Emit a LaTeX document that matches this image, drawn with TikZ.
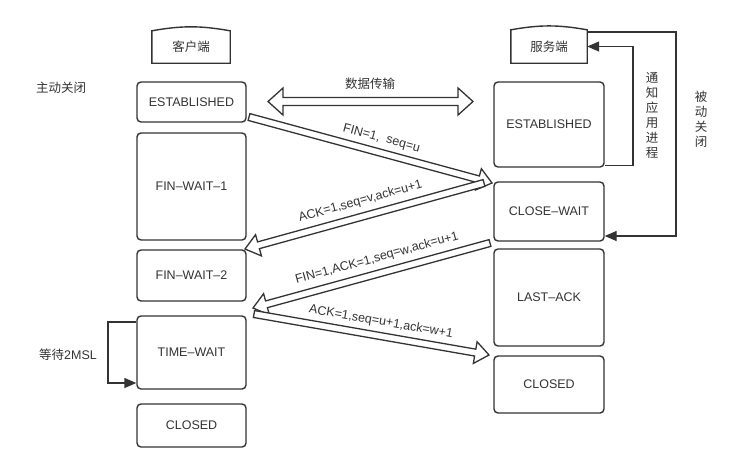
\documentclass[tikz,border=0pt]{standalone}
\usepackage{fontspec}
\setmainfont{Liberation Sans}
\newfontfamily\cjk{Noto Sans CJK SC}
\usetikzlibrary{calc, arrows.meta}

\definecolor{ink}{HTML}{333333}
\newcommand{\lbl}{\fontsize{12.5pt}{15pt}\selectfont}

% hollow arrow from #1 to #2
\newcommand{\hollowarrow}[2]{%
  \coordinate (h) at ($(#2)!14pt!(#1)$);
  \draw[fat] ($(#1)!3.5pt!90:(#2)$) -- ($(h)!3.5pt!90:(#2)$) -- ($(h)!11pt!90:(#2)$) -- (#2)
    -- ($(h)!11pt!-90:(#2)$) -- ($(h)!3.5pt!-90:(#2)$) -- ($(#1)!3.5pt!-90:(#2)$) -- cycle;}

\tikzset{
  statebox/.style={draw=ink, line width=1.4pt, rounded corners=4pt, minimum width=109pt, inner sep=0pt, text=ink, font=\lbl},
  hdr/.style={minimum width=78pt, minimum height=32pt, inner sep=0pt, text=ink, font=\lbl\cjk},
  edge/.style={draw=ink, line width=1.4pt},
  fat/.style={draw=ink, line width=1.3pt, fill=white},
  backline/.style={draw=ink, line width=1.4pt, -{Triangle[length=12pt,width=10pt]}},
  note/.style={text=ink, font=\lbl\cjk},
  vtext/.style={text=ink, font=\lbl\cjk, align=center},
  msg/.style={text=ink, font=\lbl, inner sep=1pt},
}

\begin{document}
\begin{tikzpicture}[x=1pt, y=-1pt]
\useasboundingbox (0,0) rectangle (738,472);

% Headers
\node[hdr] (chdr) at (191,47) {客户端};
\node[hdr, minimum width=76pt, minimum height=33pt] (shdr) at (549,46.5) {服务端};
\draw[edge] (chdr.south west) -- (chdr.north west) to[bend left=10] (chdr.north east) -- (chdr.south east) -- cycle;
\draw[edge] (shdr.south west) -- (shdr.north west) to[bend left=10] (shdr.north east) -- (shdr.south east) -- cycle;

% Client states
\node[statebox, minimum height=40pt] (cest) at (191.5,102) {ESTABLISHED};
\node[statebox, minimum height=107pt] (cfw1) at (191.5,186.5) {FIN--WAIT--1};
\node[statebox, minimum height=51pt] (cfw2) at (191.5,275.5) {FIN--WAIT--2};
\node[statebox, minimum height=73pt] (ctw) at (191.5,352.5) {TIME--WAIT};
\node[statebox, minimum height=43pt] (ccl) at (191.5,425.5) {CLOSED};

% Server states
\node[statebox, minimum width=110pt, minimum height=85pt] (sest) at (549,124.5) {ESTABLISHED};
\node[statebox, minimum width=110pt, minimum height=59pt] (scw) at (549,211.5) {CLOSE--WAIT};
\node[statebox, minimum width=110pt, minimum height=97pt] (sla) at (549,297.5) {LAST--ACK};
\node[statebox, minimum width=110pt, minimum height=57pt] (scl) at (549,384.5) {CLOSED};

% Side texts
\node[note] (active) at (61,88) {主动关闭};
\node[note] (wait) at (68,355) {等待{\fontspec{Liberation Sans}2MSL}};
\node[note] (data) at (370,84) {数据传输};
\node[vtext] (notify) at (652,115) {通\\知\\应\\用\\进\\程};
\node[vtext] (passive) at (701,119) {被\\动\\关\\闭};

% Loops
\coordinate (n1) at (633,46);
\coordinate (n2) at (676,236);
\coordinate (w1) at (108,383);
\draw[backline] ($(sest.south east)+(0,-2)$) -| (n1 |- shdr.east) -- (shdr.east);
\draw[backline] ($(shdr.north east)+(0,2)$) -| (n2) -- (scw.east |- n2);
\draw[backline] (ctw.west |- 0,322) -| (w1) -- (ctw.west |- w1);

% Data transfer
\coordinate (d1) at (268,101.5);
\coordinate (d2) at (473,101.5);
\draw[fat] (d1) -- ++(15,-13.5) -- ++(0,9.5) -- ($(d2)+(-15,-4)$) -- ++(0,-9.5) -- (d2)
  -- ++(-15,13.5) -- ++(0,-9.5) -- ($(d1)+(15,4)$) -- ++(0,9.5) -- cycle;

% Messages
\coordinate (a1s) at (249,117);
\coordinate (a1e) at (492,183);
\coordinate (a2s) at (484,183);
\coordinate (a2e) at (245,249);
\coordinate (a3s) at (490,243);
\coordinate (a3e) at (253,308);
\coordinate (a4s) at (254,314);
\coordinate (a4e) at (489,355);
\hollowarrow{a1s}{a1e}
\hollowarrow{a2s}{a2e}
\hollowarrow{a3s}{a3e}
\hollowarrow{a4s}{a4e}
\path (a1s) -- (a1e) node[msg, pos=0.53, sloped, above=7pt] {FIN=1,\ \ seq=u};
\path (a2s) -- (a2e) node[msg, pos=0.5, sloped, above=8pt] {ACK=1,seq=v,ack=u+1};
\path (a3s) -- (a3e) node[msg, pos=0.46, sloped, above=8pt] {FIN=1,ACK=1,seq=w,ack=u+1};
\path (a4s) -- (a4e) node[msg, pos=0.53, sloped, above=7pt] {ACK=1,seq=u+1,ack=w+1};
\end{tikzpicture}
\end{document}
